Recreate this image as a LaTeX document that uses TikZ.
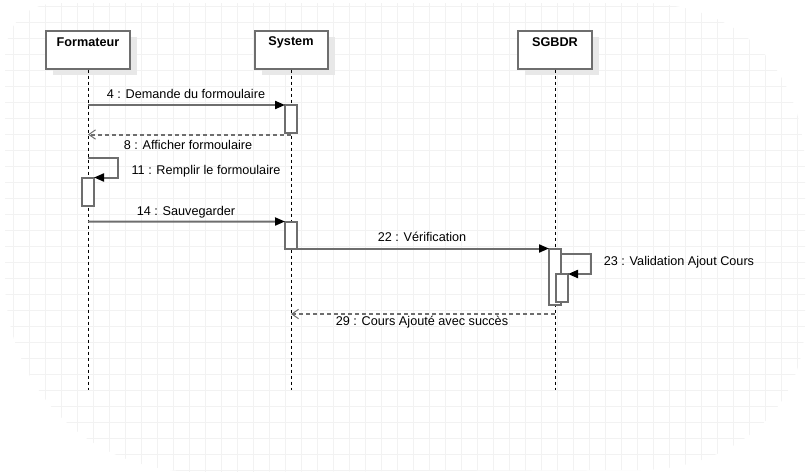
\documentclass[tikz,border=0pt]{standalone}
\usepackage{fontspec}
\setmainfont{Liberation Sans}
\usetikzlibrary{arrows.meta}

\definecolor{linegray}{RGB}{110,110,110}
\definecolor{gridgray}{RGB}{242,242,242}
\definecolor{shadowgray}{RGB}{232,232,232}

\tikzset{
	head/.style={draw=linegray, line width=1.5pt, fill=white, minimum width=63pt, minimum height=28.5pt, inner sep=0pt},
	headshadow/.style={fill=shadowgray, minimum width=63pt, minimum height=28.5pt, inner sep=0pt},
	headtext/.style={font=\fontsize{9.5}{11}\selectfont\bfseries, inner sep=0pt},
	life/.style={black, line width=0.75pt, dash pattern=on 2.25pt off 2.25pt},
	act/.style={draw=linegray, line width=1.5pt, fill=white, minimum width=9pt, inner sep=0pt, outer sep=0pt},
	msg/.style={linegray, line width=1.5pt, -{Triangle[length=7.5pt,width=6pt,color=black]}},
	ret/.style={linegray, line width=1.5pt, dash pattern=on 3pt off 2.25pt, -{Straight Barb[length=5pt,width=7pt,line width=0.75pt]}},
	lbl/.style={font=\fontsize{9.5}{11}\selectfont, inner sep=0pt},
	gridline/.style={gridgray, line width=0.75pt}
}

\begin{document}
\begin{tikzpicture}[x=0.75pt,y=0.75pt,yscale=-1,xscale=1]
	\useasboundingbox (0,0) rectangle (810,475);

	%Background grid
	\begin{scope}
		\clip (60,3) -- (650,3) .. controls (760,10) and (805,90) .. (805,170) -- (805,320) .. controls (805,420) and (720,470) .. (640,470) -- (200,472) .. controls (80,472) and (5,380) .. (5,280) -- (5,60) .. controls (5,20) and (30,3) .. (60,3) ;
		\foreach \gx in {13.3,29.3,...,810} \draw[gridline] (\gx,0) -- (\gx,475);
		\foreach \gy in {6.7,22.7,...,475} \draw[gridline] (0,\gy) -- (810,\gy);
	\end{scope}

	%Shadows
	\node[headshadow] (fmtS) at (95,55.5) {};
	\node[headshadow, minimum width=54.75pt] (sysS) at (298,55.5) {};
	\node[headshadow, minimum width=55.5pt] (sgbdS) at (562,55.5) {};

	%Lifeline heads
	\node[head] (fmt) at (88,49.5) {};
	\node[headtext] (fmtT) at (88,42.5) {Formateur};
	\node[head, minimum width=54.75pt] (sys) at (291,49.5) {};
	\node[headtext] (sysT) at (291,42.5) {System};
	\node[head, minimum width=55.5pt] (sgbd) at (555,49.5) {};
	\node[headtext] (sgbdT) at (555,42.5) {SGBDR};

	%Lifelines
	\coordinate (fmtE) at (88,390);
	\coordinate (sysE) at (291,390);
	\coordinate (sgbdE) at (555,390);
	\draw[life] (fmt.south) -- (fmtE);
	\draw[life] (sys.south) -- (sysE);
	\draw[life] (sgbd.south) -- (sgbdE);

	%Activations
	\node[act, minimum height=21pt] (a1) at (291,119) {};
	\node[act, minimum height=21pt] (a2) at (88,191.5) {};
	\node[act, minimum height=20.25pt] (a3) at (291,235) {};
	\node[act, minimum height=42.375pt] (a4) at (555,276.75) {};
	\node[act, minimum height=21pt] (a5) at (562,288) {};

	%Straight Lines
	\coordinate (m4s) at (88,105);
	\draw[msg] (m4s) -- (a1.north west);
	% Text Node
	\node[lbl] (l4) at (186,93.5) {4 : Demande du formoulaire};

	%Dashed Lines
	\coordinate (m8s) at (291,134.5);
	\coordinate (m8e) at (88,134.5);
	\draw[ret] (m8s) -- (m8e);
	% Text Node
	\node[lbl] (l8) at (188,145) {8 : Afficher formoulaire};

	%Self Lines
	\coordinate (m11s) at (88,157.5);
	\draw[msg] (m11s) -- ++(30,0) |- (a2.north east);
	% Text Node
	\node[lbl] (l11) at (206,171.5) {11 : Remplir le formoulaire};

	%Straight Lines
	\coordinate (m14s) at (88,221.7);
	\draw[msg] (m14s) -- (a3.north west);
	% Text Node
	\node[lbl] (l14) at (186,212) {14 : Sauvegarder};

	%Straight Lines
	\draw[msg] (a3.south east) -- (a4.north west);
	% Text Node
	\node[lbl] (l22) at (422,237) {22 : Vérification};

	%Self Lines
	\coordinate (m23s) at (561,254);
	\draw[msg] (m23s) -- ++(30,0) |- (a5.north east);
	% Text Node
	\node[lbl] (l23) at (679,262.5) {23 : Validation Ajout Cours};

	%Dashed Lines
	\coordinate (m29s) at (555,314);
	\coordinate (m29e) at (291,314);
	\draw[ret] (m29s) -- (m29e);
	% Text Node
	\node[lbl] (l29) at (422,322.5) {29 : Cours Ajouté avec succès};
\end{tikzpicture}
\end{document}
